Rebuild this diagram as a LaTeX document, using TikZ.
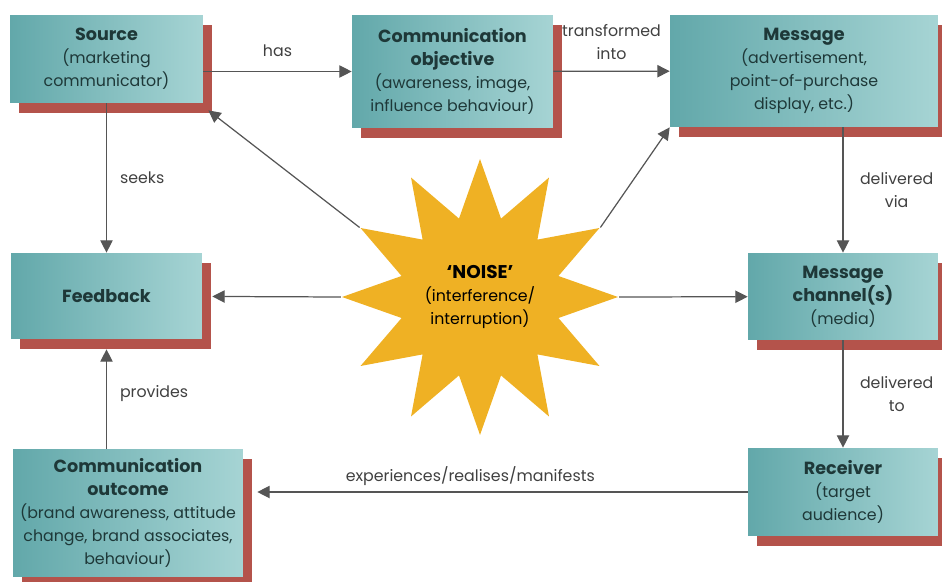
\documentclass[tikz,border=0pt]{standalone}
\usepackage{fontspec}
\setmainfont{Poppins}
\usetikzlibrary{shapes.geometric,shadows,arrows.meta}
\definecolor{tealdark}{HTML}{62A8AA}
\definecolor{teallight}{HTML}{A6D4D4}
\definecolor{brick}{HTML}{B4534B}
\definecolor{noisegold}{HTML}{EFB124}
\definecolor{ink}{HTML}{1E3838}
\definecolor{wire}{HTML}{555555}
\tikzset{
  block/.style={rectangle, left color=tealdark, right color=teallight, text=ink,
    align=center, inner sep=2pt, font=\fontsize{9}{13}\selectfont,
    drop shadow={shadow xshift=0.18cm, shadow yshift=-0.2cm, fill=brick, opacity=1}},
  conn/.style={draw=wire, line width=0.7pt, -{Triangle[length=7pt,width=7pt]}},
  lbl/.style={text=black!75, font=\fontsize{9}{13}\selectfont, align=center}
}
\newcommand{\hd}[1]{{\fontsize{10}{13}\selectfont\bfseries #1}}
\begin{document}
\begin{tikzpicture}[x=0.02cm,y=-0.02cm]
\useasboundingbox (0,0) rectangle (942,581);

\node[block, minimum width=3.86cm, minimum height=1.76cm] (source) at (106.5,59)
	{\hd{Source}\\(marketing\\communicator)};
\node[block, minimum width=4.02cm, minimum height=2.26cm] (objective) at (452.5,71.5)
	{\hd{Communication}\\\hd{objective}\\(awareness, image,\\influence behaviour)};
\node[block, minimum width=5.36cm, minimum height=2.24cm] (message) at (804,71)
	{\hd{Message}\\(advertisement,\\point-of-purchase\\display, etc.)};
\node[block, minimum width=3.82cm, minimum height=1.72cm] (feedback) at (106.5,296)
	{\hd{Feedback}};
\node[block, minimum width=3.8cm, minimum height=1.74cm] (channel) at (843,296.5)
	{\hd{Message}\\\hd{channel(s)}\\(media)};
\node[block, minimum width=3.8cm, minimum height=1.76cm] (receiver) at (843,492)
	{\hd{Receiver}\\(target\\audience)};
\node[block, minimum width=4.6cm, minimum height=2.56cm] (outcome) at (128,513)
	{\hd{Communication}\\\hd{outcome}\\(brand awareness, attitude\\change, brand associates,\\behaviour)};

% noise in the middle
\node[star, star points=12, star point ratio=1.7, fill=noisegold, minimum size=5.52cm,
	inner sep=0pt, align=center, font=\fontsize{9}{13}\selectfont] (noise) at (480,297)
	{{\fontsize{10.5}{13}\selectfont\bfseries ‘NOISE’}\\(interference/\\interruption)};

\path[every edge/.style={conn}]
(source.east |- objective) edge node[lbl, above=5pt]{has} (objective)
(objective) edge node[lbl, above=3pt]{transformed\\into} (message)
(message.south -| channel) edge node[lbl, right=6pt]{delivered\\via} (channel)
(channel) edge node[lbl, right=6pt]{delivered\\to} (receiver)
(receiver) edge[shorten >=0.28cm] node[lbl, above, pos=0.55]{experiences/realises/manifests} (receiver -| outcome.east)
(source) edge node[lbl, right=4pt]{seeks} (feedback)
(outcome.north -| feedback) edge[shorten >=0.2cm] node[lbl, right=4pt]{provides} (feedback)
(noise.outer point 3) edge ([xshift=0.1cm,yshift=-0.14cm]source.south east)
(noise.outer point 11) edge (message.south west)
(noise.outer point 4) edge[shorten >=0.2cm] (feedback)
(noise.outer point 10) edge (channel);
\end{tikzpicture}
\end{document}
